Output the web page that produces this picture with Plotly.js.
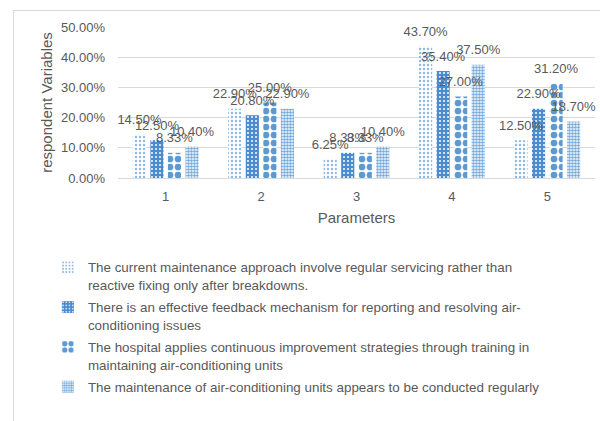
<!DOCTYPE html>
<html>
<head>
<meta charset="utf-8">
<script src="https://cdn.plot.ly/plotly-3.0.1.min.js"></script>
<style>
  html, body { margin: 0; padding: 0; background: #ffffff; }
  #wrap { position: relative; width: 600px; height: 421px; overflow: hidden; }
  #chart { position: absolute; left: 0; top: 0; width: 600px; height: 421px; }
  #frame { position: absolute; left: 13px; top: 10px; width: 620px; height: 440px;
           border: 1px solid #d9d9d9; pointer-events: none; }
</style>
</head>
<body>
<div id="wrap">
  <div id="chart"></div>
  <div id="frame"></div>
</div>
<script>
const categories = ['1', '2', '3', '4', '5'];

const seriesNames = [
  'The current maintenance approach involve regular servicing rather than<br>reactive fixing only after breakdowns.',
  'There is an effective feedback mechanism for reporting and resolving air-<br>conditioning issues',
  'The hospital applies continuous improvement strategies through training in<br>maintaining air-conditioning units',
  'The maintenance of air-conditioning units appears to be conducted regularly'
];

const regularServicing = [0.145, 0.229, 0.0625, 0.437, 0.125];
const feedbackMechanism = [0.125, 0.208, 0.0833, 0.354, 0.229];
const continuousImprovement = [0.0833, 0.25, 0.0833, 0.27, 0.312];
const conductedRegularly = [0.104, 0.229, 0.104, 0.375, 0.187];

const seriesValues = [regularServicing, feedbackMechanism, continuousImprovement, conductedRegularly];

const patterns = [
  {shape: '.', fgcolor: '#8fbbe3', bgcolor: '#ffffff', size: 4, solidity: 0.3, fillmode: 'replace'},
  {shape: '.', fgcolor: '#ffffff', bgcolor: '#4a8cd0', size: 4, solidity: 0.2, fillmode: 'replace'},
  {shape: '.', fgcolor: '#5b9bd5', bgcolor: '#ffffff', size: 8, solidity: 0.55, fillmode: 'replace'},
  {shape: '.', fgcolor: '#6fa7dc', bgcolor: '#ffffff', size: 3, solidity: 0.6, fillmode: 'replace'}
];

const GAP = 0.265;
const labelFont = {family: 'Liberation Sans, Arial, sans-serif', size: 13, color: '#595959'};

const traces = [];
seriesValues.forEach((vals, i) => {
  traces.push({
    type: 'bar',
    name: seriesNames[i],
    x: categories,
    y: vals,
    offsetgroup: 'g' + i,
    legendgroup: 'g' + i,
    marker: {color: '#ffffff', pattern: patterns[i], line: {width: 0}},
    hoverinfo: 'y'
  });
});
seriesValues.forEach((vals, i) => {
  traces.push({
    type: 'scatter',
    mode: 'markers+text',
    x: categories,
    y: vals,
    offsetgroup: 'g' + i,
    showlegend: false,
    hoverinfo: 'skip',
    cliponaxis: false,
    marker: {size: 10, color: 'rgba(0,0,0,0)'},
    text: vals.map(v => (v * 100).toFixed(2) + '%'),
    textposition: 'top center',
    textfont: labelFont
  });
});

const layout = {
  width: 600,
  height: 421,
  margin: {l: 118, r: 5, t: 27, b: 243},
  paper_bgcolor: 'rgba(0,0,0,0)',
  plot_bgcolor: 'rgba(0,0,0,0)',
  font: {family: 'Liberation Sans, Arial, sans-serif', size: 13, color: '#595959'},
  barmode: 'group',
  bargap: GAP,
  bargroupgap: 0.25,
  scattermode: 'group',
  scattergap: GAP,
  showlegend: true,
  legend: {
    x: -0.147, xanchor: 'left',
    y: -0.49, yanchor: 'top',
    valign: 'top',
    font: {family: 'Liberation Sans, Arial, sans-serif', size: 13.4, color: '#595959'},
    tracegroupgap: 2,
    itemwidth: 30,
    bgcolor: 'rgba(0,0,0,0)'
  },
  xaxis: {
    type: 'category',
    showgrid: false,
    showline: true,
    linecolor: '#d9d9d9',
    linewidth: 1,
    ticks: '',
    ticklabelstandoff: 6,
    tickfont: {size: 13, color: '#595959'},
    title: {text: 'Parameters', font: {size: 15, color: '#595959'}, standoff: 9}
  },
  yaxis: {
    range: [0, 0.5],
    dtick: 0.1,
    tickformat: '.2%',
    showgrid: true,
    gridcolor: '#d9d9d9',
    zeroline: false,
    showline: false,
    ticks: '',
    ticklabelstandoff: 12,
    tickfont: {size: 13, color: '#595959'},
    title: {text: 'respondent Variables', font: {size: 15, color: '#595959'}, standoff: 4}
  }
};

Plotly.newPlot('chart', traces, layout, {displayModeBar: false, staticPlot: true});
</script>
</body>
</html>
